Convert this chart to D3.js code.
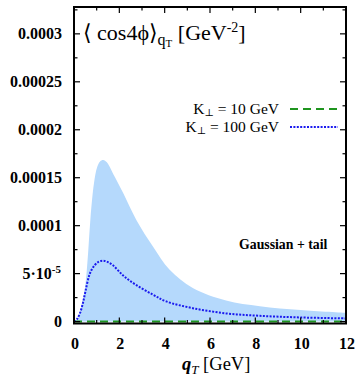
<!DOCTYPE html>
<html lang="en">
<head>
<meta charset="UTF-8">
<title>cos4phi vs qT</title>
<script src="https://d3js.org/d3.v7.min.js"></script>
<style>
  body { margin: 0; background: #fff; }
  svg { display: block; }
</style>
</head>
<body>
<script>

// band: Gaussian + tail, upper edge (units 1e-5 GeV^-2)
var bandQ     = [0, 0.13, 0.26, 0.4, 0.51, 0.63, 0.73, 0.88, 1.02, 1.15, 1.29, 1.45, 1.73, 2.17, 2.75, 3.49, 4.22, 5.24, 6.71, 8.2, 10, 12];
var bandUpper = [0, 0.15, 1.0, 2.4, 4.0, 7.4, 10.9, 14.4, 16.1, 16.7, 16.85, 16.6, 15.4, 13.4, 10.6, 7.8, 5.4, 3.5, 2.2, 1.6, 1.2, 0.9];

// K_perp = 100 GeV (dotted)
var k100Q   = [0, 0.13, 0.26, 0.4, 0.51, 0.7, 0.92, 1.1, 1.29, 1.5, 1.73, 2.17, 2.75, 3.49, 4.07, 5.24, 6.71, 8.2, 10, 12];
var k100Val = [0, 0.25, 0.85, 2.0, 3.2, 5.0, 5.9, 6.25, 6.35, 6.2, 5.85, 4.8, 3.8, 2.8, 2.1, 1.4, 0.85, 0.6, 0.43, 0.33];

// K_perp = 10 GeV (dashed), essentially zero
var k10Q   = [0, 2, 4, 6, 8, 10, 12];
var k10Val = [0, 0, 0, 0, 0, 0, 0];

var yTicks = [0, 5e-5, 1e-4, 1.5e-4, 2e-4, 2.5e-4, 3e-4];
var yTickLabels = ["0", "5·10", "0.0001", "0.00015", "0.0002", "0.00025", "0.0003"];
var xTicks = [0, 2, 4, 6, 8, 10, 12];

var W = 359, H = 380;
var serif = "'Liberation Serif', 'Times New Roman', Times, 'DejaVu Serif', serif";
var x = d3.scaleLinear().domain([0, 12]).range([74, 346]);
var y = d3.scaleLinear().domain([-2e-6, 3.28e-4]).range([323.5, 7]);

var svg = d3.select("body").append("svg")
    .attr("width", W).attr("height", H)
    .attr("font-family", serif)
    .style("font-family", serif);

var band = bandQ.map((q, i) => ({q: q, v: bandUpper[i] * 1e-5}));
var k100 = k100Q.map((q, i) => ({q: q, v: k100Val[i] * 1e-5}));
var k10 = k10Q.map((q, i) => ({q: q, v: k10Val[i]}));

var smooth = d3.curveCatmullRom.alpha(0.5);

svg.append("path")
    .datum(band)
    .attr("fill", "#b5d9fc")
    .attr("d", d3.area().x(d => x(d.q)).y0(y(0)).y1(d => Math.min(y(0), y(d.v))).curve(smooth));

svg.append("path")
    .datum(k10)
    .attr("fill", "none")
    .attr("stroke", "#1f951f")
    .attr("stroke-width", 2)
    .attr("stroke-dasharray", "8,5")
    .attr("d", d3.line().x(d => x(d.q)).y(d => y(d.v)));

svg.append("path")
    .datum(k100)
    .attr("fill", "none")
    .attr("stroke", "#1a1aee")
    .attr("stroke-width", 2)
    .attr("stroke-dasharray", "2,1.4")
    .attr("d", d3.line().x(d => x(d.q)).y(d => y(d.v)).curve(smooth));

// ticks on all four sides, pointing inward
var ax = svg.append("g").attr("stroke", "#000").attr("stroke-width", 1.2);
var yMinor = d3.range(0, 3.26e-4, 2.5e-5);
yMinor.forEach(function (v, i) {
    var len = (i % 2 === 0) ? 6 : 3.5;
    ax.append("line").attr("x1", x(0)).attr("x2", x(0) + len).attr("y1", y(v)).attr("y2", y(v));
    ax.append("line").attr("x1", x(12)).attr("x2", x(12) - len).attr("y1", y(v)).attr("y2", y(v));
});
d3.range(0, 13, 1).forEach(function (q) {
    var len = (q % 2 === 0) ? 6 : 3.5;
    ax.append("line").attr("x1", x(q)).attr("x2", x(q)).attr("y1", 323.5).attr("y2", 323.5 - len);
    ax.append("line").attr("x1", x(q)).attr("x2", x(q)).attr("y1", 7).attr("y2", 7 + len);
});

svg.append("rect")
    .attr("x", 74).attr("y", 7).attr("width", 272).attr("height", 316.5)
    .attr("fill", "none").attr("stroke", "#000").attr("stroke-width", 2);

// y tick labels
var yl = svg.append("g")
    .attr("font-size", 16).attr("font-weight", "bold").attr("text-anchor", "end");
yTicks.forEach(function (v, i) {
    var t = yl.append("text").attr("x", 62).attr("y", y(v) + 5.5);
    if (i === 1) {
        t.attr("x", 61).text(yTickLabels[i]);
        t.append("tspan").attr("dy", -6).attr("font-size", 11).text("-5");
    } else {
        t.text(yTickLabels[i]);
    }
});

// x tick labels
var xl = svg.append("g")
    .attr("font-size", 16).attr("font-weight", "bold").attr("text-anchor", "middle");
xTicks.forEach(function (q) {
    xl.append("text").attr("x", x(q) + 1).attr("y", 349).text(q);
});

// x axis title
var xt = svg.append("text").attr("x", 182).attr("y", 370).attr("font-size", 18.5);
xt.append("tspan").attr("font-style", "italic").attr("font-weight", "bold").text("q");
xt.append("tspan").attr("font-style", "italic").attr("font-size", 13).attr("dy", 4).text("T");
xt.append("tspan").attr("dy", -4).text(" [GeV]");

// plot title
var tt = svg.append("text").attr("x", 83).attr("y", 40).attr("font-size", 22);
tt.append("tspan").text("⟨ cos4ϕ⟩");
tt.append("tspan").attr("font-size", 16).attr("dy", 5).text("q");
tt.append("tspan").attr("font-size", 11).attr("dy", 2).text("T");
tt.append("tspan").attr("dy", -7).text(" [GeV");
tt.append("tspan").attr("font-size", 14).attr("dy", -8).text("-2");
tt.append("tspan").attr("dy", 8).text("]");

// legend
var legend = [
    {label: "10 GeV", y: 109, stroke: "#1f951f", dash: "8,5"},
    {label: "100 GeV", y: 127, stroke: "#1a1aee", dash: "2,1.4"}
];
legend.forEach(function (d) {
    var t = svg.append("text").attr("x", 279).attr("y", d.y + 5)
        .attr("font-size", 15.5).attr("text-anchor", "end");
    t.append("tspan").text("K");
    t.append("tspan").attr("font-size", 10).attr("dy", 2).text("⊥");
    t.append("tspan").attr("dy", -2).text(" = " + d.label);
    svg.append("line")
        .attr("x1", 290).attr("x2", 338).attr("y1", d.y).attr("y2", d.y)
        .attr("stroke", d.stroke).attr("stroke-width", 2)
        .attr("stroke-dasharray", d.dash);
});

svg.append("text")
    .attr("x", 239).attr("y", 249)
    .attr("font-size", 13.8).attr("font-weight", "bold")
    .text("Gaussian + tail");

</script>
</body>
</html>
